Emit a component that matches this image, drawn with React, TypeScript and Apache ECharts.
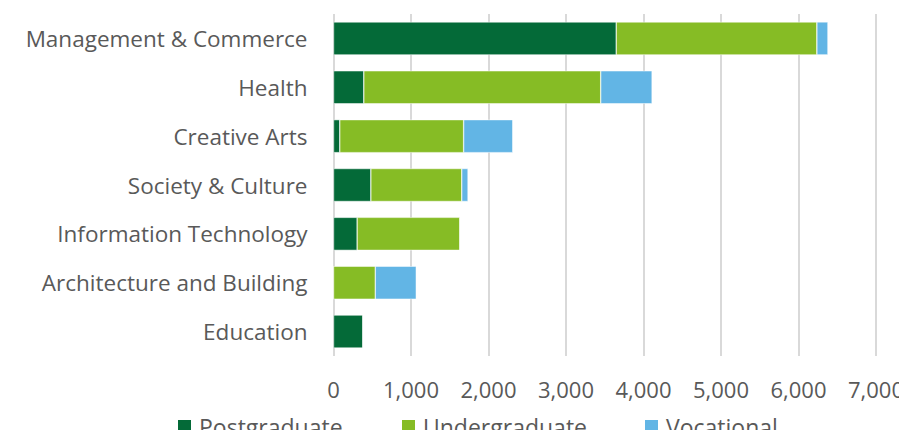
import React, { useEffect, useRef } from "react";
import * as echarts from "echarts";

const categories = [
  "Management & Commerce",
  "Health",
  "Creative Arts",
  "Society & Culture",
  "Information Technology",
  "Architecture and Building",
  "Education",
];
const postgraduate = [3648, 391, 81, 482, 305, 0, 381];
const undergraduate = [2589, 3057, 1598, 1173, 1326, 539, 0];
const vocational = [143, 663, 634, 81, 0, 529, 0];
const seriesNames = ["Postgraduate", "Undergraduate", "Vocational"];
const colors = ["#046A38", "#86BC25", "#62B5E5"];
const legendLefts = [176, 400, 643];

const FONT = "'Open Sans', 'Noto Sans', sans-serif";
const TEXT = "#595959";

export default function App() {
  const ref = useRef<HTMLDivElement>(null);
  useEffect(() => {
    if (!ref.current) return;
    const chart = echarts.init(ref.current, undefined, { renderer: "svg" });
    const values = [postgraduate, undergraduate, vocational];
    chart.setOption({
      animation: false,
      textStyle: { fontFamily: FONT },
      grid: { left: 333.5, right: 30, top: 14, bottom: 82, containLabel: false },
      xAxis: {
        type: "value",
        min: 0,
        max: 7000,
        interval: 1000,
        axisLine: { show: false },
        axisTick: { show: false },
        splitLine: { show: true, lineStyle: { color: "#d9d9d9", width: 2 } },
        axisLabel: {
          color: TEXT,
          fontSize: 22,
          fontFamily: FONT,
          margin: 22,
          formatter: (v: number) => v.toLocaleString("en-US"),
        },
      },
      yAxis: {
        type: "category",
        data: categories,
        inverse: true,
        axisLine: { show: false },
        axisTick: { show: false },
        axisLabel: { color: TEXT, fontSize: 22.5, fontFamily: FONT, margin: 26 },
      },
      legend: seriesNames.map((n, i) => ({
        data: [n],
        left: legendLefts[i],
        top: 415,
        padding: 0,
        itemWidth: 15,
        itemHeight: 15,
        icon: "rect",
        textStyle: { color: TEXT, fontSize: 23, fontFamily: FONT, padding: [0, 0, 0, 2] },
      })),
      series: seriesNames.map((n, i) => ({
        name: n,
        type: "bar",
        stack: "total",
        data: values[i],
        barWidth: 33,
        itemStyle: { color: colors[i], borderColor: "#ffffff", borderWidth: 0.5 },
      })),
    });
    return () => chart.dispose();
  }, []);
  return <div ref={ref} style={{ width: 907, height: 438, margin: -8 }} />;
}
